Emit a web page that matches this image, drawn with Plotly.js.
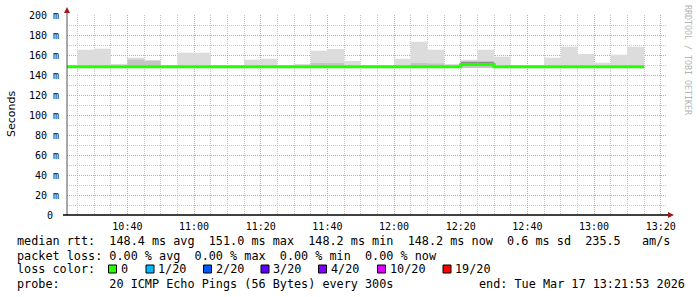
<!DOCTYPE html>
<html><head><meta charset="utf-8">
<script src="https://cdn.plot.ly/plotly-3.0.1.min.js"></script>
<style>html,body{margin:0;padding:0;background:#fff}#chart{width:697px;height:297px}</style>
</head><body><div id="chart"></div>
<script>
// ---- data (5-minute buckets, start times) ----
const day = '2026-03-17';
const bucketStart = ['10:20','10:25','10:30','10:35','10:40','10:45','10:50','10:55','11:00','11:05','11:10','11:15','11:20','11:25','11:30','11:35','11:40','11:45','11:50','11:55','12:00','12:05','12:10','12:15','12:20','12:25','12:30','12:35','12:40','12:45','12:50','12:55','13:00','13:05','13:10'];
const dataEnd = '13:15';
// median rtt in ms
const medianRtt = [148.2,148.2,148.2,148.2,148.2,148.2,148.2,148.2,148.2,148.2,148.2,148.2,148.2,148.2,148.2,148.2,148.2,148.2,148.2,148.2,148.2,148.2,148.2,148.2,150.5,150.5,148.2,148.2,148.2,148.2,148.2,148.2,148.2,148.2,148.2];
// smoke (ping spread) in ms
const smokeLow  = [null,147.5,147.5,147.5,147.5,147.5,null,147.5,147.5,null,null,147.5,147.5,null,147.5,147.5,147.5,147.5,null,null,147.5,147.5,147.5,147.5,147,147,147.5,null,null,147.5,147.5,147.5,147.5,147.5,147.5];
const smokeHigh = [null,165.3,166.3,151,157.3,155,null,162.3,162.3,null,null,155.3,156.3,null,151,164.3,166,154,null,null,156.3,173.3,165.3,151,155.3,165.3,158.3,null,null,157.3,168.3,161,152.3,160.3,168.3];
const smokeMid  = [null,null,null,null,155.3,154,null,null,null,null,null,null,null,null,null,152,152,null,null,null,null,152,151.5,null,152,152,null,null,null,null,null,null,null,null,null];
const coreLow   = [null,null,null,null,null,null,null,null,null,null,null,null,null,null,null,null,null,null,null,null,null,null,null,null,151.5,151.5,null,null,null,null,null,null,null,null,null];
const coreHigh  = [null,null,null,null,null,null,null,null,null,null,null,null,null,null,null,null,null,null,null,null,null,null,null,null,153.3,153.3,null,null,null,null,null,null,null,null,null];
// axis ticks
const yTickVals = [0,20,40,60,80,100,120,140,160,180,200];
const yTickText = ['0\u00a0','20 m','40 m','60 m','80 m','100 m','120 m','140 m','160 m','180 m','200 m'];
// legend
const lossLabels = ['0','1/20','2/20','3/20','4/20','10/20','19/20'];
const lossColors = ['#26ff00','#00b8ff','#0059ff','#5e00ff','#7e00ff','#dd00ff','#ff0000'];
const legendLine1 = 'median rtt:  148.4 ms avg  151.0 ms max  148.2 ms min  148.2 ms now  0.6 ms sd  235.5   am/s';
const legendLine2 = 'packet loss: 0.00 % avg  0.00 % max  0.00 % min  0.00 % now';
const legendLine3 = 'loss color:';
const legendLine4 = 'probe:       20 ICMP Echo Pings (56 Bytes) every 300s';
const legendEnd = 'end: Tue Mar 17 13:21:53 2026';

// ---- build ----
const BUCKET_MS = 300000;
const toDate = t => new Date(day + 'T' + t + ':00');
const fmt = d => { const p=n=>String(n).padStart(2,'0'); return d.getFullYear()+'-'+p(d.getMonth()+1)+'-'+p(d.getDate())+' '+p(d.getHours())+':'+p(d.getMinutes())+':'+p(d.getSeconds()); };
const centers = bucketStart.map(t => fmt(new Date(toDate(t).getTime() + BUCKET_MS/2)));
const starts = bucketStart.map(t => day + ' ' + t + ':00');

function band(lo, hi, color) {
  return {
    type: 'bar', x: centers,
    base: lo.map((v,i)=> (v==null||hi[i]==null)?null:v),
    y: hi.map((v,i)=> (v==null||lo[i]==null)?null:v-lo[i]),
    width: centers.map(()=>BUCKET_MS),
    marker: {color: color, line: {width: 0}},
    hoverinfo: 'skip', showlegend: false
  };
}
const midLow = smokeMid.map((v,i)=> v==null?null:smokeLow[i]);

const traces = [
  band(smokeLow, smokeHigh, '#dcdcdc'),
  band(midLow, smokeMid, '#c4c4c4'),
  band(coreLow, coreHigh, '#8c8c8c'),
  {
    type: 'scatter', mode: 'lines',
    x: starts.concat([day + ' ' + dataEnd + ':00']),
    y: medianRtt.concat([medianRtt[medianRtt.length-1]]),
    line: {shape: 'hv', color: '#22ff00', width: 3},
    hoverinfo: 'skip', showlegend: false
  }
];

// pixel -> paper helpers (plot area 67..667 x 15..215)
const PX = px => (px - 67) / 600;
const PY = py => (215 - py) / 200;

const mono = 'DejaVu Sans Mono, monospace';
const nb = s => s.replace(/ /g, '\u00a0');

const shapes = [
  {type:'line', xref:'paper', yref:'paper', x0:PX(67), x1:PX(67), y0:PY(215), y1:PY(11), line:{color:'#555555', width:1}},
  {type:'line', xref:'paper', yref:'paper', x0:PX(63), x1:PX(670), y0:PY(215), y1:PY(215), line:{color:'#000000', width:1.5}},
  {type:'path', xref:'paper', yref:'paper', path:`M ${PX(67)} ${PY(7)} L ${PX(64)} ${PY(13)} L ${PX(70)} ${PY(13)} Z`, fillcolor:'#9b1c1c', line:{width:0}},
  {type:'path', xref:'paper', yref:'paper', path:`M ${PX(674)} ${PY(215)} L ${PX(668)} ${PY(212)} L ${PX(668)} ${PY(218)} Z`, fillcolor:'#9b1c1c', line:{width:0}}
];

const annotations = [
  {xref:'paper', yref:'paper', x:PX(11), y:PY(114), text:'Seconds', showarrow:false, textangle:-90, font:{family:'DejaVu Sans, sans-serif', size:11, color:'#000'}, xanchor:'center', yanchor:'middle'},
  {xref:'paper', yref:'paper', x:PX(688), y:PY(60), text:nb('RRDTOOL / TOBI OETIKER'), showarrow:false, textangle:90, font:{family:mono, size:8.3, color:'#b4b4b4'}, xanchor:'center', yanchor:'middle'},
  {xref:'paper', yref:'paper', x:PX(15), y:PY(241), text:nb(legendLine1), showarrow:false, font:{family:mono, size:11.8, color:'#000'}, xanchor:'left', yanchor:'middle'},
  {xref:'paper', yref:'paper', x:PX(15), y:PY(255.5), text:nb(legendLine2), showarrow:false, font:{family:mono, size:11.8, color:'#000'}, xanchor:'left', yanchor:'middle'},
  {xref:'paper', yref:'paper', x:PX(15), y:PY(269), text:nb(legendLine3), showarrow:false, font:{family:mono, size:11.8, color:'#000'}, xanchor:'left', yanchor:'middle'},
  {xref:'paper', yref:'paper', x:PX(15), y:PY(283.5), text:nb(legendLine4), showarrow:false, font:{family:mono, size:11.8, color:'#000'}, xanchor:'left', yanchor:'middle'},
  {xref:'paper', yref:'paper', x:PX(477), y:PY(283.5), text:nb(legendEnd), showarrow:false, font:{family:mono, size:11.8, color:'#000'}, xanchor:'left', yanchor:'middle'}
];

const boxX = [108.5, 146, 203.5, 261, 318.5, 377.5, 443];
lossLabels.forEach((lab, i) => {
  shapes.push({type:'rect', xref:'paper', yref:'paper', x0:PX(boxX[i]), x1:PX(boxX[i]+8), y0:PY(273), y1:PY(265), fillcolor:lossColors[i], line:{color:'#000', width:1}});
  annotations.push({xref:'paper', yref:'paper', x:PX(boxX[i]+10), y:PY(269), text:nb(lab), showarrow:false, font:{family:mono, size:11.8, color:'#000'}, xanchor:'left', yanchor:'middle'});
});

const layout = {
  width: 697, height: 297,
  margin: {l:67, r:30, t:15, b:82, pad:0},
  paper_bgcolor: '#ffffff', plot_bgcolor: '#ffffff',
  showlegend: false, barmode: 'overlay',
  xaxis: {
    type: 'date',
    range: ['2026-03-17 10:21:53', '2026-03-17 13:21:53'],
    tick0: '2026-03-17 10:00:00', dtick: 1200000,
    tickformat: '%H:%M',
    ticks: 'outside', ticklen: 2, tickcolor: 'rgba(0,0,0,0)',
    tickfont: {family: mono, size: 10, color: '#000'},
    showgrid: true, gridcolor: '#e89a9a', gridwidth: 1, griddash: '1px,1px',
    minor: {dtick: 300000, tick0: '2026-03-17 10:00:00', showgrid: true, gridcolor: '#c8c8c8', gridwidth: 1, griddash: '1px,1px'},
    showline: false, zeroline: false, fixedrange: true
  },
  yaxis: {
    range: [0, 200],
    tickvals: yTickVals, ticktext: yTickText,
    ticks: 'outside', ticklen: 5, tickcolor: 'rgba(0,0,0,0)',
    tickfont: {family: mono, size: 10, color: '#000'},
    showgrid: true, gridcolor: '#e89a9a', gridwidth: 1, griddash: '1px,1px',
    minor: {dtick: 10, showgrid: true, gridcolor: '#c8c8c8', gridwidth: 1, griddash: '1px,1px'},
    showline: false, zeroline: false, fixedrange: true
  },
  shapes: shapes,
  annotations: annotations
};

Plotly.newPlot('chart', traces, layout, {staticPlot: true, displayModeBar: false});
</script>
</body></html>
